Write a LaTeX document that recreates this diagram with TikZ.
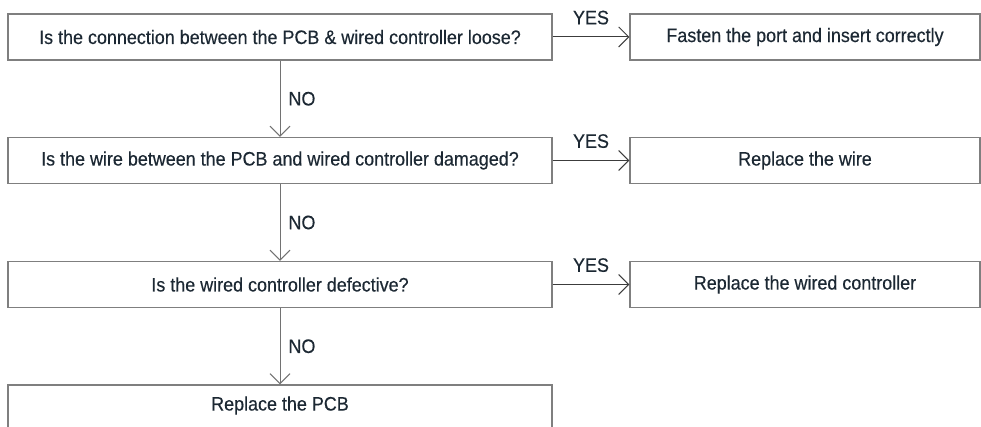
\documentclass[tikz,border=0pt]{standalone}
\usepackage{fontspec}
\setmainfont[FakeStretch=0.92,FakeBold=0.4]{Liberation Sans}
\usetikzlibrary{arrows.meta}
\definecolor{boxgray}{HTML}{7F7F7F}
\definecolor{txtblue}{HTML}{1C2833}
\definecolor{linegray}{HTML}{3C3C3C}

\begin{document}
\begin{tikzpicture}[x=1pt,y=-1pt]
\tikzstyle{every node}+=[inner sep=0pt, text=txtblue, font=\fontsize{19.5}{23}\selectfont]
\tikzstyle{qbox}=[draw=boxgray, line width=1.2pt, minimum width=544pt, minimum height=46pt]
\tikzstyle{abox}=[draw=boxgray, line width=1.2pt, minimum width=350pt, minimum height=46pt]
\tikzstyle{flow}=[draw=linegray, line width=1pt, -{Straight Barb[length=10pt,width=20pt]}]
\tikzstyle{down}=[flow, draw=boxgray!90!black]
\useasboundingbox (0,0) rectangle (981,427);
\clip (0,0) rectangle (981,427);
% questions
\node [qbox] (q1) at (280,37) {Is the connection between the PCB \& wired controller loose?};
\node [qbox] (q2) at (280,160.5) {Is the wire between the PCB and wired controller damaged?};
\node [qbox] (q3) at (280,284.5) {Is the wired controller defective?};
\node [qbox] (q4) at (280,408) {};
\node (pcb) at (280,405.5) {Replace the PCB};
% actions
\node [abox] (a1) at (805,37) {Fasten the port and insert correctly};
\node [abox] (a2) at (805,160.5) {Replace the wire};
\node [abox] (a3) at (805,284.5) {Replace the wired controller};
% arrows
\draw [flow] (q1) -- node [above=12pt] {YES} (a1);
\draw [flow] (q2) -- node [above=12pt] {YES} (a2);
\draw [flow] (q3) -- node [above=12pt] {YES} (a3);
\draw [down] (q1) -- node [right=8pt] {NO} (q2);
\draw [down] (q2) -- node [right=8pt] {NO} (q3);
\draw [down] (q3) -- node [right=8pt] {NO} (q4);
\end{tikzpicture}
\end{document}
